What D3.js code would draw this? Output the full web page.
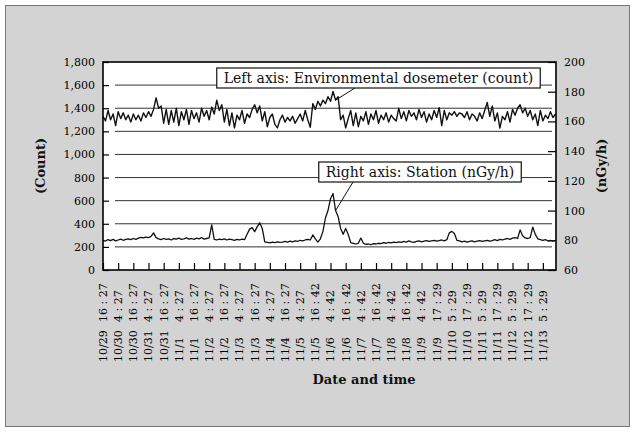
<!DOCTYPE html>
<html><head><meta charset="utf-8">
<script src="https://cdn.jsdelivr.net/npm/d3@7"></script>
<style>body{margin:0;background:#fff}svg{display:block}</style>
</head><body>
<svg id="c" width="635" height="432"></svg>
<script>
// ---------- DATA ----------
const xDates = ["10/29","10/30","10/30","10/31","10/31","11/1","11/1","11/2","11/2","11/3","11/3","11/4","11/4","11/5","11/5","11/6","11/6","11/7","11/7","11/8","11/8","11/9","11/9","11/10","11/10","11/11","11/11","11/12","11/12","11/13"];
const xTimes = ["16 : 27","4 : 27","16 : 27","4 : 27","16 : 27","4 : 27","16 : 27","4 : 27","16 : 27","4 : 27","16 : 27","4 : 27","16 : 27","4 : 27","16 : 42","4 : 42","16 : 42","4 : 42","16 : 42","4 : 42","16 : 42","4 : 42","17 : 29","5 : 29","17 : 29","5 : 29","17 : 29","5 : 29","17 : 29","5 : 29"];
const leftTicks = [0,200,400,600,800,1000,1200,1400,1600,1800];
const rightTicks = [60,80,100,120,140,160,180,200];
// Environmental dosemeter (count), one value every 2 h
const dosemeterCount = [
 1330,1290,1380,1300,1350,1250,1370,1310,1360,1300,1340,
 1280,1350,1300,1340,1290,1360,1320,1370,1330,1390,
 1490,1400,1420,
 1270,1390,1260,1380,1280,1400,1250,1370,1300,1390,1260,1380,1310,1360,1280,1400,1330,1380,1300,1410,1350,
 1470,1380,1430,
 1280,1390,1250,1360,1230,1340,1300,1380,1270,1350,1320,
 1390,1430,1360,1420,
 1290,1370,1240,1320,1350,1260,1230,1300,1340,1280,1320,1290,1330,1270,1310,1350,1290,1380,1300,1235,
 1440,1390,1460,
 1420,1470,1440,1500,1460,1545,1470,1500,1300,1340,1230,1310,
 1380,1250,1360,1240,1330,1290,1370,1260,1350,1300,1380,1270,1340,1300,1360,1280,1340,1310,1290,
 1400,
 1310,1370,1290,1380,1330,1360,1300,1390,1320,1370,1280,1350,1300,1380,1320,
 1405,1250,1380,1300,
 1360,1340,1370,1330,1360,1350,1320,1370,1300,1350,1330,1290,1360,1310,1380,
 1450,1330,1420,1290,1360,1228,1330,
 1300,1370,1280,1390,1340,1400,
 1430,1360,1400,1330,1380,1300,1350,1250,1380,1290,1340,1310,1370,1320,1350
];
// Station (nGy/h), one value every 2 h
const stationDose = [
 80.0,79.5,80.5,79.8,80.6,79.6,80.2,80.8,80.0,80.6,81.0,80.4,81.2,80.6,81.4,
 82.0,81.6,82.2,81.8,82.6,
 85.0,81.8,
 81.0,80.4,81.2,80.6,81.0,80.2,81.2,80.8,81.4,80.6,81.0,81.6,80.8,81.2,80.6,81.4,81.0,81.8,80.8,81.2,81.6,
 90.3,80.6,
 80.2,80.8,80.4,81.0,80.2,80.8,80.4,80.0,80.6,80.2,80.8,80.4,
 84.0,87.5,88.5,
 85.8,89.0,
 91.8,88.0,
 79.0,
 78.6,78.2,78.8,78.4,79.0,78.6,78.8,79.2,78.8,79.4,79.0,79.6,79.2,80.0,79.6,80.2,80.6,80.2,
 83.6,81.0,78.8,
 81.0,86.0,95.0,100.0,108.0,111.5,100.0,96.0,88.0,84.0,88.0,84.0,78.5,78.0,77.5,78.0,81.5,78.0,
 77.2,77.5,77.0,77.8,77.5,78.0,
 77.8,78.4,78.0,78.6,78.2,78.8,78.4,79.0,78.6,79.2,78.8,79.6,79.0,78.6,79.2,79.6,79.0,79.4,79.8,79.2,79.6,80.0,79.4,79.8,80.2,79.6,80.4,
 85.0,86.0,84.5,80.0,
 79.6,79.0,79.4,78.8,79.2,79.6,79.0,79.4,79.8,79.2,79.6,80.0,79.4,79.8,80.4,79.8,80.6,80.2,80.8,81.2,80.6,81.4,81.8,81.2,
 87.0,83.0,81.6,81.2,81.8,
 88.9,84.0,81.0,80.5,80.0,80.5,79.5,80.0,79.5,80.0
];
const labelStep = 6;
const leftTitle = "(Count)", rightTitle = "(nGy/h)", xTitle = "Date and time";
const noteLeft = "Left axis: Environmental dosemeter (count)";
const noteRight = "Right axis: Station (nGy/h)";

// ---------- LAYOUT ----------
const W = 635, H = 432;
const L = 103, R = 556, T = 62, B = 270;
const FONT = "'DejaVu Serif', serif";
const svg = d3.select("#c");

svg.append("rect").attr("x",0).attr("y",0).attr("width",W).attr("height",H).attr("fill","#fff");
svg.append("rect").attr("x",5.5).attr("y",5.5).attr("width",624).attr("height",421)
  .attr("fill","#d3d3d3").attr("stroke","#777").attr("stroke-width",1);

const x = d3.scaleLinear().domain([0, 179.2]).range([L, R]);
const yL = d3.scaleLinear().domain([0, 1800]).range([B, T]);
const yR = d3.scaleLinear().domain([60, 200]).range([B, T]);

// plot area
svg.append("rect").attr("x",L).attr("y",T).attr("width",R-L).attr("height",B-T).attr("fill","#fff");

// gridlines
svg.append("g").selectAll("line").data(leftTicks.filter(v=>v>0 && v<1800)).join("line")
  .attr("x1",L+12).attr("x2",R-4)
  .attr("y1",d=>yL(d)).attr("y2",d=>yL(d))
  .attr("stroke","#333").attr("stroke-width",1);

// left axis
const gl = svg.append("g").attr("transform",`translate(${L},0)`)
  .call(d3.axisLeft(yL).tickValues(leftTicks).tickSize(-6).tickSizeOuter(0).tickPadding(8).tickFormat(d3.format(",")));
gl.select(".domain").remove();
gl.selectAll("text").attr("font-family",FONT).attr("font-size",11).attr("fill","#000");
gl.selectAll("line").attr("stroke","#000").attr("stroke-width",1.2);

// right axis
const gr = svg.append("g").attr("transform",`translate(${R},0)`)
  .call(d3.axisRight(yR).tickValues(rightTicks).tickSize(-8).tickSizeOuter(0).tickPadding(8));
gr.select(".domain").remove();
gr.selectAll("text").attr("font-family",FONT).attr("font-size",11).attr("fill","#000");
gr.selectAll("line").attr("stroke","#000").attr("stroke-width",1.2);

// bottom axis ticks
const tickIdx = d3.range(xTimes.length).map(i=>i*labelStep);
const gb = svg.append("g").attr("transform",`translate(0,${B})`)
  .call(d3.axisBottom(x).tickValues(tickIdx).tickSize(-7).tickSizeOuter(0).tickFormat(""));
gb.select(".domain").remove();
gb.selectAll("line").attr("stroke","#000").attr("stroke-width",1.2);

// x labels (rotated)
svg.append("g").selectAll("text").data(xTimes).join("text")
  .attr("transform",(d,i)=>`translate(${x(i*labelStep)},322) rotate(-90)`)
  .attr("dy","0.35em").attr("text-anchor","start")
  .attr("font-family",FONT).attr("font-size",11).attr("fill","#000").text(d=>d);
svg.append("g").selectAll("text").data(xDates).join("text")
  .attr("transform",(d,i)=>`translate(${x(i*labelStep)},362) rotate(-90)`)
  .attr("dy","0.35em").attr("text-anchor","start")
  .attr("font-family",FONT).attr("font-size",11).attr("fill","#000").text(d=>d);

// series
const lineL = d3.line().x((d,i)=>x(i)).y(d=>yL(d));
const lineR = d3.line().x((d,i)=>x(i)).y(d=>yR(d));
svg.append("path").datum(dosemeterCount).attr("d",lineL)
  .attr("fill","none").attr("stroke","#111").attr("stroke-width",1.4).attr("stroke-linejoin","round");
svg.append("path").datum(stationDose).attr("d",lineR)
  .attr("fill","none").attr("stroke","#111").attr("stroke-width",1.3).attr("stroke-linejoin","round");

// frame
svg.append("rect").attr("x",L).attr("y",T).attr("width",R-L).attr("height",B-T)
  .attr("fill","none").attr("stroke","#000").attr("stroke-width",1.6);

// axis titles
svg.append("text").attr("transform",`translate(40,${(T+B)/2}) rotate(-90)`)
  .attr("text-anchor","middle").attr("dy","0.35em")
  .attr("font-family",FONT).attr("font-size",13).attr("font-weight","bold").attr("fill","#111").text(leftTitle);
svg.append("text").attr("transform",`translate(601,${(T+B)/2}) rotate(-90)`)
  .attr("text-anchor","middle").attr("dy","0.35em")
  .attr("font-family",FONT).attr("font-size",13).attr("font-weight","bold").attr("fill","#111").text(rightTitle);
svg.append("text").attr("x",364).attr("y",384).attr("text-anchor","middle")
  .attr("font-family",FONT).attr("font-size",13).attr("font-weight","bold").attr("fill","#111").text(xTitle);

// annotations
function note(txt, cx, cy, tx, ty, fromX){
  const g = svg.append("g");
  const t = g.append("text").attr("x",cx).attr("y",cy).attr("dy","0.35em").attr("text-anchor","middle")
    .attr("font-family",FONT).attr("font-size",14).attr("fill","#111").text(txt);
  const bb = t.node().getBBox();
  const padX = 7;
  const bx = bb.x - padX, by = cy - 10, bw = bb.width + 2*padX, bh = 20;
  g.insert("rect","text").attr("x",bx).attr("y",by).attr("width",bw).attr("height",bh)
    .attr("fill","#fff").attr("stroke","#111").attr("stroke-width",1.2);
  g.append("line").attr("x1",fromX).attr("y1",by+bh).attr("x2",tx).attr("y2",ty)
    .attr("stroke","#111").attr("stroke-width",1);
}
note(noteLeft, 378.5, 78, x(92), yL(1470), 355);
note(noteRight, 420, 172, x(92), yR(100), 353);
</script>
</body></html>
